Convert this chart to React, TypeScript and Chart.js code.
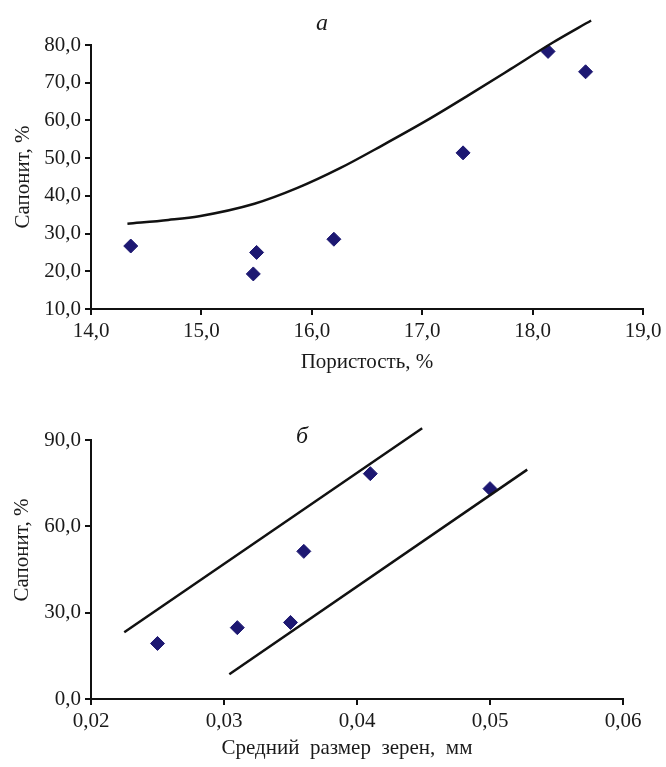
import React, { useEffect, useRef } from "react";
import { Chart, registerables } from "chart.js";

Chart.register(...registerables);

// ---- Chart "а": porosity vs saponite ----
const porosityX = [14.36, 15.47, 15.5, 16.2, 17.37, 18.14, 18.48];
const saponiteA = [26.7, 19.3, 25.0, 28.5, 51.4, 78.3, 72.9];
const curveX = [14.33, 14.7, 14.98, 15.48, 15.87, 16.26, 16.64, 17.03, 17.41, 17.8, 18.18, 18.53];
const curveY = [32.6, 33.6, 34.6, 37.9, 42.1, 47.4, 53.4, 59.8, 66.5, 73.6, 80.6, 86.5];

// ---- Chart "б": grain size vs saponite ----
const grainX = [0.025, 0.031, 0.035, 0.036, 0.041, 0.05];
const saponiteB = [19.3, 24.8, 26.6, 51.3, 78.3, 73.1];
const upperLineX = [0.0225, 0.0449];
const upperLineY = [23.2, 94.1];
const lowerLineX = [0.0304, 0.0528];
const lowerLineY = [8.6, 79.7];

const FONT = "'Liberation Serif', 'Times New Roman', serif";
const MARKER = "#1d1872";
const TEXT = "#1a1a1a";

type Label = { text: string; x: number; y: number; size: number; italic?: boolean; rotate?: number };

const textLabels = {
  id: "textLabels",
  afterDraw(chart: any, _args: any, opts: any) {
    const items: Label[] = (opts && opts.items) || [];
    const ctx = chart.ctx;
    for (const it of items) {
      ctx.save();
      ctx.font = `${it.italic ? "italic " : ""}${it.size}px ${FONT}`;
      ctx.fillStyle = TEXT;
      ctx.textAlign = "center";
      ctx.textBaseline = "middle";
      ctx.translate(it.x, it.y);
      if (it.rotate) ctx.rotate(it.rotate);
      ctx.fillText(it.text, 0, 0);
      ctx.restore();
    }
  },
};

const pts = (xs: number[], ys: number[]) => xs.map((x, i) => ({ x, y: ys[i] }));

function axisCommon(
  fmt: (v: number) => string,
  min: number,
  max: number,
  step: number,
  title: string | null,
  titlePad: any,
  fit: (s: any) => void
) {
  return {
    type: "linear",
    min,
    max,
    afterFit: fit,
    border: { display: true, color: "#111", width: 2 },
    grid: { display: true, drawOnChartArea: false, drawTicks: true, tickLength: 6, color: "#111", lineWidth: 2 },
    ticks: {
      stepSize: step,
      color: TEXT,
      padding: 4,
      font: { family: FONT, size: 21 },
      callback: (v: any) => fmt(Number(v)),
      maxRotation: 0,
      autoSkip: false,
    },
    title: {
      display: !!title,
      text: title || "",
      color: TEXT,
      font: { family: FONT, size: 21 },
      padding: titlePad,
    },
  };
}

const f1 = (v: number) => v.toFixed(1).replace(".", ",");
const f2 = (v: number) => v.toFixed(2).replace(".", ",");

function ChartA() {
  const ref = useRef<HTMLCanvasElement>(null);
  useEffect(() => {
    const chart = new Chart(ref.current!, {
      type: "scatter",
      data: {
        datasets: [
          {
            type: "line",
            data: pts(curveX, curveY),
            borderColor: "#111",
            borderWidth: 2.5,
            pointRadius: 0,
            cubicInterpolationMode: "monotone",
            fill: false,
            clip: false,
          } as any,
          {
            data: pts(porosityX, saponiteA),
            pointStyle: "rectRot",
            pointRadius: 7,
            backgroundColor: MARKER,
            borderColor: MARKER,
            borderWidth: 1,
          },
        ],
      },
      options: {
        responsive: false,
        animation: false,
        layout: { padding: { top: 45, right: 23, left: 0, bottom: 0 } },
        plugins: {
          legend: { display: false },
          tooltip: { enabled: false },
          textLabels: { items: [{ text: "а", x: 322, y: 24, size: 24, italic: true }] },
        } as any,
        scales: {
          x: axisCommon(f1, 14, 19, 1, "Пористость, %", { top: 0, bottom: 10 }, (s: any) => { s.height = 76; }) as any,
          y: axisCommon(f1, 10, 80, 10, "Сапонит, %", { top: 11, bottom: 0 }, (s: any) => { s.width = 91; }) as any,
        },
      },
      plugins: [textLabels],
    });
    return () => chart.destroy();
  }, []);
  return <canvas ref={ref} width={666} height={385} style={{ display: "block", width: 666, height: 385 }} />;
}

function ChartB() {
  const ref = useRef<HTMLCanvasElement>(null);
  useEffect(() => {
    const lineDs = (xs: number[], ys: number[]) =>
      ({
        type: "line",
        data: pts(xs, ys),
        borderColor: "#111",
        borderWidth: 2.5,
        pointRadius: 0,
        fill: false,
        clip: false,
      } as any);
    const chart = new Chart(ref.current!, {
      type: "scatter",
      data: {
        datasets: [
          lineDs(upperLineX, upperLineY),
          lineDs(lowerLineX, lowerLineY),
          {
            data: pts(grainX, saponiteB),
            pointStyle: "rectRot",
            pointRadius: 7,
            backgroundColor: MARKER,
            borderColor: MARKER,
            borderWidth: 1,
          },
        ],
      },
      options: {
        responsive: false,
        animation: false,
        layout: { padding: { top: 55, right: 43, left: 0, bottom: 0 } },
        plugins: {
          legend: { display: false },
          tooltip: { enabled: false },
          textLabels: {
            items: [
              { text: "б", x: 302, y: 52, size: 24, italic: true },
              { text: "Сапонит, %", x: 22, y: 165, size: 21, rotate: -Math.PI / 2 },
              { text: "Средний  размер  зерен,  мм", x: 347, y: 363, size: 21 },
            ],
          },
        } as any,
        scales: {
          x: axisCommon(f2, 0.02, 0.06, 0.01, null, null, (s: any) => { s.height = 68; }) as any,
          y: axisCommon(f1, 0, 90, 30, null, null, (s: any) => { s.width = 91; }) as any,
        },
      },
      plugins: [textLabels],
    });
    return () => chart.destroy();
  }, []);
  return <canvas ref={ref} width={666} height={382} style={{ display: "block", width: 666, height: 382 }} />;
}

export default function App() {
  return (
    <div style={{ position: "absolute", left: 0, top: 0, width: 666, height: 767, background: "#fff" }}>
      <ChartA />
      <ChartB />
    </div>
  );
}
